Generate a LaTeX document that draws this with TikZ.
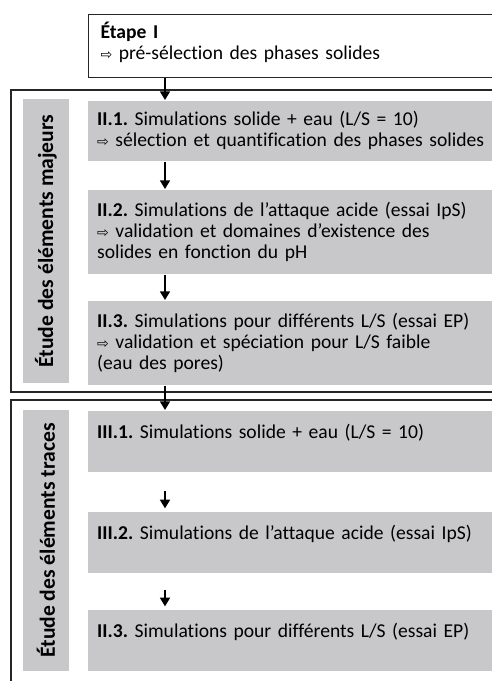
\documentclass[tikz,border=0pt]{standalone}
\usepackage{fontspec}
\setmainfont{Carlito}[Ligatures=NoCommon]
\newfontfamily\symfont{DejaVu Sans}
\usetikzlibrary{arrows.meta, positioning}

\definecolor{boxgray}{RGB}{200,200,202}
\newcommand{\fleche}{{\symfont\fontsize{10.5}{10}\selectfont ⇨}}

\tikzset{
  frame/.style={draw=black!85, line width=0.8pt},
  etapebox/.style={draw=black!85, line width=0.8pt, anchor=north west, minimum width=324pt,
    minimum height=47.25pt, text width=306pt, align=left, inner xsep=7pt,
    font=\fontsize{14.7}{15.75}\selectfont},
  simbox/.style={fill=boxgray, anchor=north west, minimum width=320pt, text width=306pt,
    align=left, inner xsep=7pt, inner ysep=0pt, font=\fontsize{14.7}{15.75}\selectfont},
  sidebox/.style={fill=boxgray, rotate=90, minimum height=34.5pt, inner sep=0pt,
    font=\fontsize{16.2}{16}\selectfont\bfseries},
}

\begin{document}
\frenchspacing
\begin{tikzpicture}[x=0.75pt, y=-0.75pt, ->, >={Triangle[width=7.5pt, length=6.5pt]}, line width=1.3pt]
  \useasboundingbox (0,0) rectangle (492,681);
  \clip (0,0) rectangle (492,681);
  \coordinate (axis) at (165,0);

  % cadres
  \draw[frame, -] (11,90) rectangle (520,392);
  \draw[frame, -] (11,400) rectangle (520,700);

  \node[etapebox] (etape) at (88,14)
    {\textbf{Étape I}\\ \fleche{} pré-sélection des phases solides\rule[-8pt]{0pt}{8pt}};

  % éléments majeurs
  \node[sidebox, minimum width=213pt] (majeurs) at (46,241) {Étude des éléments majeurs};
  \node[simbox, minimum height=45pt] (ii1) at (87,100)
    {\textbf{II.1.} Simulations solide + eau (L/S = 10)\\ \fleche{} sélection et quantification des phases solides};
  \node[simbox, minimum height=63pt] (ii2) at (87,189)
    {\textbf{II.2.} Simulations de l’attaque acide (essai IpS)\\ \fleche{} validation et domaines d’existence des\\ solides en fonction du pH};
  \node[simbox, minimum height=63pt] (ii3) at (87,300)
    {\textbf{II.3.} Simulations pour différents L/S (essai EP)\\ \fleche{} validation et spéciation pour L/S faible\\ (eau des pores)};

  % éléments traces
  \node[sidebox, minimum width=195.75pt] (traces) at (46,540.5) {Étude des éléments traces};
  \node[simbox, minimum height=45.75pt] (iii1) at (87,410)
    {\textbf{III.1.} Simulations solide + eau (L/S = 10)\\ \mbox{}};
  \node[simbox, minimum height=45.75pt] (iii2) at (87,511)
    {\textbf{III.2.} Simulations de l’attaque acide (essai IpS)\\ \mbox{}};
  \node[simbox, minimum height=45.75pt] (iii3) at (87,609)
    {\textbf{II.3.} Simulations pour différents L/S (essai EP)\\ \mbox{}};

  \draw (etape.south -| axis) -- (ii1.north -| axis);
  \draw (ii1.south -| axis) -- (ii2.north -| axis);
  \draw (ii2.south -| axis) -- (ii3.north -| axis);
  \draw (ii3.south -| axis) -- (iii1.north -| axis);
  \draw[shorten <=14pt, shorten >=2pt] (iii1.south -| axis) -- (iii2.north -| axis);
  \draw[shorten <=12pt, shorten >=2pt] (iii2.south -| axis) -- (iii3.north -| axis);
\end{tikzpicture}
\end{document}
